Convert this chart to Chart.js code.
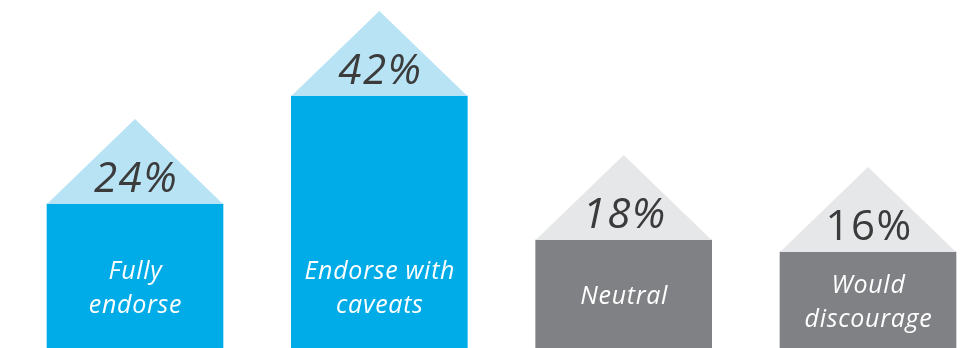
<!DOCTYPE html>
<html>
<head>
<meta charset="utf-8">
<script src="https://cdn.jsdelivr.net/npm/chart.js@4"></script>
<style>
  html, body { margin: 0; padding: 0; background: #fff; }
  #wrap { width: 974px; height: 348px; }
</style>
</head>
<body>
<div id="wrap"><canvas id="chart"></canvas></div>
<script>
// survey answers, one house per answer
const categories = [['Fully', 'endorse'], ['Endorse with', 'caveats'], ['Neutral'], ['Would', 'discourage']];
const shares = [24, 42, 18, 16];
const shareLabels = ['24%', '42%', '18%', '16%'];

const wallColors = ['#00ace8', '#00ace8', '#808185', '#808185'];
const roofColors = ['#b8e3f5', '#b8e3f5', '#e6e7e8', '#e6e7e8'];
const shareFontStyles = ['italic', 'italic', 'italic', 'normal'];

const ROOF_HEIGHT = 85;
const FONT = '"Open Sans", "Noto Sans", sans-serif';
const CAP = 17.5;
const LINE_HEIGHT = 33.5;

// roofs, percentages in the roofs, answer names on the walls
const housePlugin = {
  id: 'houses',
  afterDatasetsDraw(chart) {
    const ctx = chart.ctx;
    const meta = chart.getDatasetMeta(0);
    meta.data.forEach((bar, i) => {
      const { x, y, width, base } = bar.getProps(['x', 'y', 'width', 'base'], true);
      const half = width / 2;
      ctx.save();
      ctx.fillStyle = roofColors[i];
      ctx.beginPath();
      ctx.moveTo(x - half, y);
      ctx.lineTo(x, y - ROOF_HEIGHT);
      ctx.lineTo(x + half, y);
      ctx.closePath();
      ctx.fill();

      ctx.textAlign = 'center';
      ctx.textBaseline = 'alphabetic';
      ctx.fillStyle = '#3b3b3c';
      ctx.font = `${shareFontStyles[i]} 500 42px ${FONT}`;
      ctx.letterSpacing = '1.5px';
      ctx.fillText(shareLabels[i], x + 1, y - 12.5);

      // names sit in the lower part of tall walls, centred on short ones
      ctx.fillStyle = '#ffffff';
      ctx.font = `italic 500 25px ${FONT}`;
      ctx.letterSpacing = '0.7px';
      const lines = categories[i];
      const blockHeight = CAP + (lines.length - 1) * LINE_HEIGHT;
      const centre = Math.max((y + base) / 2 + 1, 287);
      const firstBaseline = centre - blockHeight / 2 + CAP;
      lines.forEach((line, k) => ctx.fillText(line, x + 0.5, firstBaseline + k * LINE_HEIGHT));
      ctx.restore();
    });
  }
};

new Chart(document.getElementById('chart'), {
  type: 'bar',
  data: {
    labels: categories,
    datasets: [{
      data: shares,
      backgroundColor: wallColors,
      borderWidth: 0,
      barThickness: 176,
      clip: false
    }]
  },
  options: {
    responsive: true,
    maintainAspectRatio: false,
    animation: false,
    layout: { padding: { left: 135, right: 106, top: 0, bottom: 0 } },
    plugins: { legend: { display: false }, tooltip: { enabled: false } },
    scales: {
      x: { type: 'category', offset: false, display: false },
      y: { min: 0, max: 58, display: false }
    }
  },
  plugins: [housePlugin]
});
</script>
</body>
</html>
